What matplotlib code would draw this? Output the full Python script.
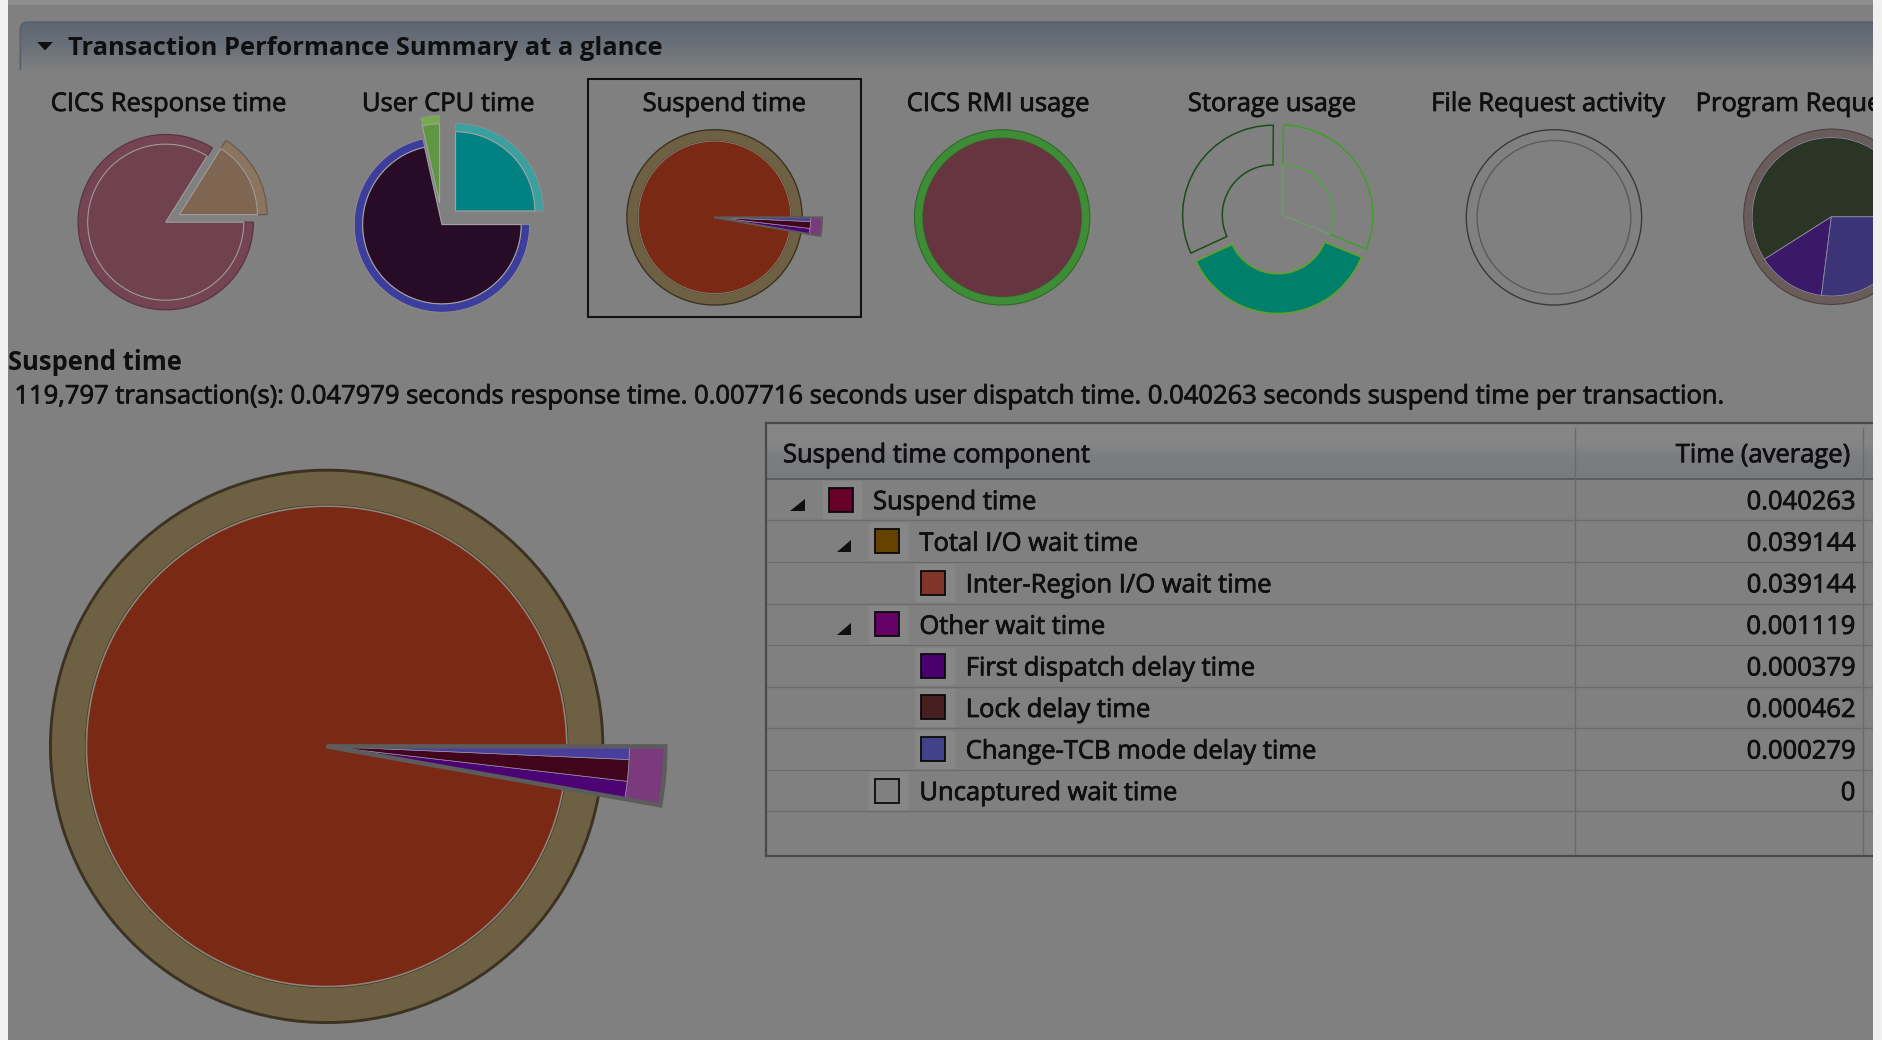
import numpy as np
import matplotlib
matplotlib.use("Agg")
import matplotlib.pyplot as plt
import matplotlib.patheffects as pe
from matplotlib.patches import Rectangle, Polygon, FancyBboxPatch
from matplotlib.colors import to_rgb

plt.rcParams["font.family"] = ["Open Sans", "DejaVu Sans"]

# ---------------------------------------------------------------- data
panel_title = "Transaction Performance Summary at a glance"
thumb_titles = ["CICS Response time", "User CPU time", "Suspend time",
                "CICS RMI usage", "Storage usage", "File Request activity",
                "Program Requests"]

# per-transaction averages (seconds)
transaction_count = "119,797"
response_time = 0.047979
dispatch_time = 0.007716
suspend_time = 0.040263

# suspend time breakdown (tree table + large pie)
component_names = ["Suspend time", "Total I/O wait time",
                   "Inter-Region I/O wait time", "Other wait time",
                   "First dispatch delay time", "Lock delay time",
                   "Change-TCB mode delay time", "Uncaptured wait time"]
component_level = [0, 1, 2, 1, 2, 2, 2, 1]
component_has_children = [True, True, False, True, False, False, False, False]
component_time = [0.040263, 0.039144, 0.039144, 0.001119,
                  0.000379, 0.000462, 0.000279, 0.0]
component_colors = ["#66002a", "#654200", "#81342a", "#660066",
                    "#47006e", "#481f1f", "#42428a", "#808080"]
table_columns = ["Suspend time component", "Time (average)"]

# shares shown in the other overview thumbnails (percent)
cpu_shares = [25.0, 3.5, 71.5]
storage_shares = [31.0, 32.0, 37.0]
program_shares = [59.0, 14.0, 27.0]

# ---------------------------------------------------------------- canvas
W, H = 1568.0, 866.0          # layout units
FIG_W, FIG_H, DPI = 1883, 1040, 100
K = FIG_W / W                 # pixels per layout unit
BG = "#808080"
INK = "#0f0f12"
THICK = [pe.withStroke(linewidth=0.55, foreground=INK)]

fig = plt.figure(figsize=(FIG_W / DPI, FIG_H / DPI), dpi=DPI)
ax = fig.add_axes([0, 0, 1, 1])
ax.set_xlim(0, W)
ax.set_ylim(0, H)
ax.axis("off")
renderer = fig.canvas.get_renderer()


def Y(v):
    return H - v


def fit_size(s, width, weight="normal", ref=20.0):
    t = ax.text(0, 0, s, fontsize=ref, weight=weight)
    w = t.get_window_extent(renderer=renderer).width
    t.remove()
    return ref * width * K / w


def label(x, y, s, size, ha="left", weight="normal"):
    ax.text(x, Y(y), s, fontsize=size, weight=weight, color=INK, ha=ha,
            va="center_baseline", zorder=3,
            path_effects=THICK if weight == "normal" else None)


def gradient(x0, x1, y_top, y_bot, stops, z):
    t = np.linspace(0, 1, 128)
    pos = [p for p, _ in stops]
    cols = np.array([to_rgb(c) for _, c in stops])
    img = np.stack([np.interp(t, pos, cols[:, k]) for k in range(3)], axis=1)
    return ax.imshow(img[:, None, :], extent=(x0, x1, Y(y_bot), Y(y_top)),
                     aspect="auto", origin="upper", interpolation="bilinear",
                     zorder=z)


def pie(values, center, radius, colors, width=None, start=0.0, explode=None,
        edge="none", lw=0.0, show=None, z=2):
    props = {"edgecolor": edge, "linewidth": lw}
    if width is not None:
        props["width"] = width
    wedges, _ = ax.pie(values, colors=colors, radius=radius, center=center,
                       startangle=start, explode=explode, wedgeprops=props,
                       frame=True)
    for i, w in enumerate(wedges):
        w.set_zorder(z)
        if show is not None and i not in show:
            w.set_visible(False)
    return wedges


ax.add_patch(Rectangle((0, 0), W, H, fc=BG, ec="none", zorder=0))

# ---------------------------------------------------------------- section header
hdr = FancyBboxPatch((17, Y(60) - 40), W + 20, (60 - 18.5) + 40,
                     boxstyle="round,pad=0,rounding_size=6",
                     fc="none", ec="#57616d", lw=1.3, zorder=1.2)
ax.add_patch(hdr)
hdr.set_clip_path(Rectangle((0, Y(58)), W, 58, transform=ax.transData))
g = gradient(17, W, 18.5, 60, [(0, "#5e6672"), (0.5, "#6b7179"),
                               (0.8, "#797b7e"), (1, BG)], 1.0)
g.set_clip_path(hdr)
ax.add_patch(Polygon([(31, Y(35)), (44, Y(35)), (37.5, Y(42))],
                     closed=True, fc=INK, ec="none", zorder=3))
title_size = fit_size(panel_title, 494, "bold")
label(57, 38, panel_title, title_size, weight="bold")

description = (f"{transaction_count} transaction(s): {response_time:.6f} seconds "
               f"response time. {dispatch_time:.6f} seconds user dispatch time. "
               f"{suspend_time:.6f} seconds suspend time per transaction.")
body = fit_size(description, 1420)

thumb_x = [140, 373, 603, 831, 1059, 1289]
for x, s in zip(thumb_x, thumb_titles[:6]):
    label(x, 84.5, s, body, ha="center")
label(1412, 84.5, thumb_titles[6], body)

# ---------------------------------------------------------------- suspend pie
RING_COLS = ["#6e6042", "#7b3a7b"]
INNER_COLS = ["#7a2915", "#4c0474", "#42061c", "#4a3e9c"]


def suspend_pie(cx, cy, R):
    s = R / 230.0
    c = (cx, Y(cy))
    ring_vals = [component_time[1], component_time[3]]
    inner_vals = [component_time[2], component_time[4],
                  component_time[5], component_time[6]]
    # body of the pie
    pie(ring_vals, c, R, RING_COLS, width=30 * s, show=[0],
        edge="#3b3222", lw=1.6 * s + 0.5, z=2)
    pie(inner_vals, c, 200 * s, INNER_COLS, show=[0],
        edge="#8d857a", lw=0.9 * s + 0.3, z=2.2)
    # pulled-out slice for the remaining components
    pie(ring_vals, c, 282 * s, RING_COLS, width=30 * s, show=[1],
        edge="#a08aa6", lw=0.5, z=3)
    pie(inner_vals, c, 252 * s, INNER_COLS, show=[1, 2, 3],
        edge="#9a8ea8", lw=0.5, z=3)
    outline = pie(ring_vals, c, 282 * s, ["none", "none"], show=[1],
                  edge="#5c5c5c", lw=2.6 * s + 0.6, z=3.5)
    outline[1].set_facecolor("none")


suspend_pie(272, 621.5, 230)
suspend_pie(595, 181, 73)
ax.add_patch(Rectangle((490, Y(264)), 227, 198, fc="none", ec="#111111",
                       lw=1.5, zorder=4))

# ---------------------------------------------------------------- CICS response
c = (138, Y(185))
resp_vals = [dispatch_time, suspend_time]
w1 = pie(resp_vals, c, 73, ["#8b755f", "#754453"], width=8,
         explode=[13, 0], lw=0.9, z=2)
w1[0].set_edgecolor("#6a5a4a")
w1[1].set_edgecolor("#5a3444")
pie(resp_vals, c, 65, ["#7e6652", "#704250"], explode=[13, 0],
    edge="#a39c9c", lw=0.8, z=2.2)

# ---------------------------------------------------------------- user CPU
c = (368, Y(187))
cpu_explode = [16, 18, 0]
pie(cpu_shares, c, 73, ["#3aa0a0", "#78a850", "#3d3d9e"], width=7,
    explode=cpu_explode, edge="#8f8f8f", lw=0.6, z=2)
pie(cpu_shares, c, 66, ["#008282", "#5f9640", "#270b27"],
    explode=cpu_explode, edge="#a3a3a3", lw=0.8, z=2.2)

# ---------------------------------------------------------------- CICS RMI
c = (834.5, Y(181))
pie([1], c, 73, ["#3e8c36"], width=7, edge="#2f6a29", lw=0.8, z=2)
pie([1], c, 66, ["#663540"], z=2.2)

# ---------------------------------------------------------------- storage
c = (1064, Y(182))
sw = pie(storage_shares, c, 75, ["none", "none", "#00806a"], width=33,
         start=-22, explode=[5, 5, 4], lw=1.1, z=2)
for w, ec in zip(sw, ["#3f9f27", "#1b4d1b", "#60a222"]):
    w.set_edgecolor(ec)
pie(storage_shares[:1] + [sum(storage_shares[1:])], c, 42, ["none", "none"],
    start=-22, explode=[5, 0], show=[0], edge="#6aa26a", lw=0.7, z=2.1)

# ---------------------------------------------------------------- file requests
c = (1294, Y(181))
pie([1], c, 73, ["none"], edge="#393939", lw=1.0, z=2)
pie([1], c, 64, ["none"], edge="#5b5b5b", lw=1.0, z=2)

# ---------------------------------------------------------------- program requests
c = (1525, Y(180.5))
pie([1], c, 73, ["#6b5c5c"], width=7, edge="#4c4040", lw=0.8, z=2)
pie(program_shares, c, 66, ["#2b3525", "#3b1868", "#3d3377"],
    edge="#8c8ca2", lw=0.6, z=2.2)

# ---------------------------------------------------------------- detail text
heading = fit_size("Suspend time", 145, "bold")
label(7, 299, "Suspend time", heading, weight="bold")
label(12, 328, description, body)

# ---------------------------------------------------------------- tree table
T_LEFT, T_TOP, T_BOT, T_RIGHT = 638, 352, 713, 1560
HDR_BOT = 398.8
ROW_H = 34.6
COL_X = 1311.5
COL_END = 1551

gradient(639, T_RIGHT, T_TOP + 1, HDR_BOT, [(0, "#878787"), (0.4, "#858585"),
                                             (0.6, "#7b7d81"), (1, "#787a7e")], 1.0)
ax.plot([T_LEFT, T_RIGHT], [Y(HDR_BOT)] * 2, color="#5a5a5a", lw=1.3, zorder=2)
for i in range(1, 9):
    yy = HDR_BOT + i * ROW_H
    ax.plot([T_LEFT, T_RIGHT], [Y(yy)] * 2, color="#6c6c6c", lw=1.0, zorder=2)
for xx in (COL_X, COL_END):
    ax.plot([xx, xx], [Y(T_TOP + 4), Y(T_BOT - 2)], color="#6a6a6a",
            lw=1.0, zorder=2)
ax.plot([T_LEFT, T_RIGHT], [Y(T_TOP)] * 2, color="#4a4a4a", lw=1.6, zorder=3)
ax.plot([T_LEFT, T_RIGHT], [Y(T_BOT)] * 2, color="#4a4a4a", lw=1.6, zorder=3)
ax.plot([T_LEFT, T_LEFT], [Y(T_TOP), Y(T_BOT)], color="#4a4a4a", lw=1.6,
        zorder=3)

label(652, 377, table_columns[0], body)
label(1540, 377, table_columns[1], body, ha="right")

for i, (name, lvl, kids, val, col) in enumerate(zip(
        component_names, component_level, component_has_children,
        component_time, component_colors)):
    top = HDR_BOT + i * ROW_H
    yc = top + ROW_H / 2
    sx = 700 + 38.6 * lvl
    ax.add_patch(Rectangle((sx - 15, Y(top + ROW_H - 1)), 33, ROW_H - 3,
                           fc="#878787", ec="none", zorder=2.5))
    ax.add_patch(Rectangle((sx - 10, Y(yc + 10)), 20, 20, fc=col,
                           ec="#0a0a0a", lw=1.3, zorder=3))
    if kids:
        xr = sx - 30
        ax.add_patch(Polygon([(xr, Y(yc - 1)), (xr, Y(yc + 9)),
                              (xr - 12, Y(yc + 9))], closed=True,
                             fc=INK, ec="none", zorder=3))
    label(sx + 27, yc, name, body)
    label(1545, yc, "0" if val == 0 else f"{val:.6f}", body, ha="right")

# ---------------------------------------------------------------- window frame
ax.add_patch(Rectangle((0, 0), 6.5, H, fc="#f0f0f0", ec="none", zorder=100))
ax.add_patch(Rectangle((1560, 0), W - 1560, H, fc="#f0f0f0", ec="none",
                       zorder=100))
ax.add_patch(Rectangle((0, Y(4)), W, 4, fc="#8e8e8e", ec="none", zorder=99))

ax.set_aspect("auto")
ax.set_xlim(0, W)
ax.set_ylim(0, H)
fig.savefig("out.png", dpi=DPI, facecolor=BG)
